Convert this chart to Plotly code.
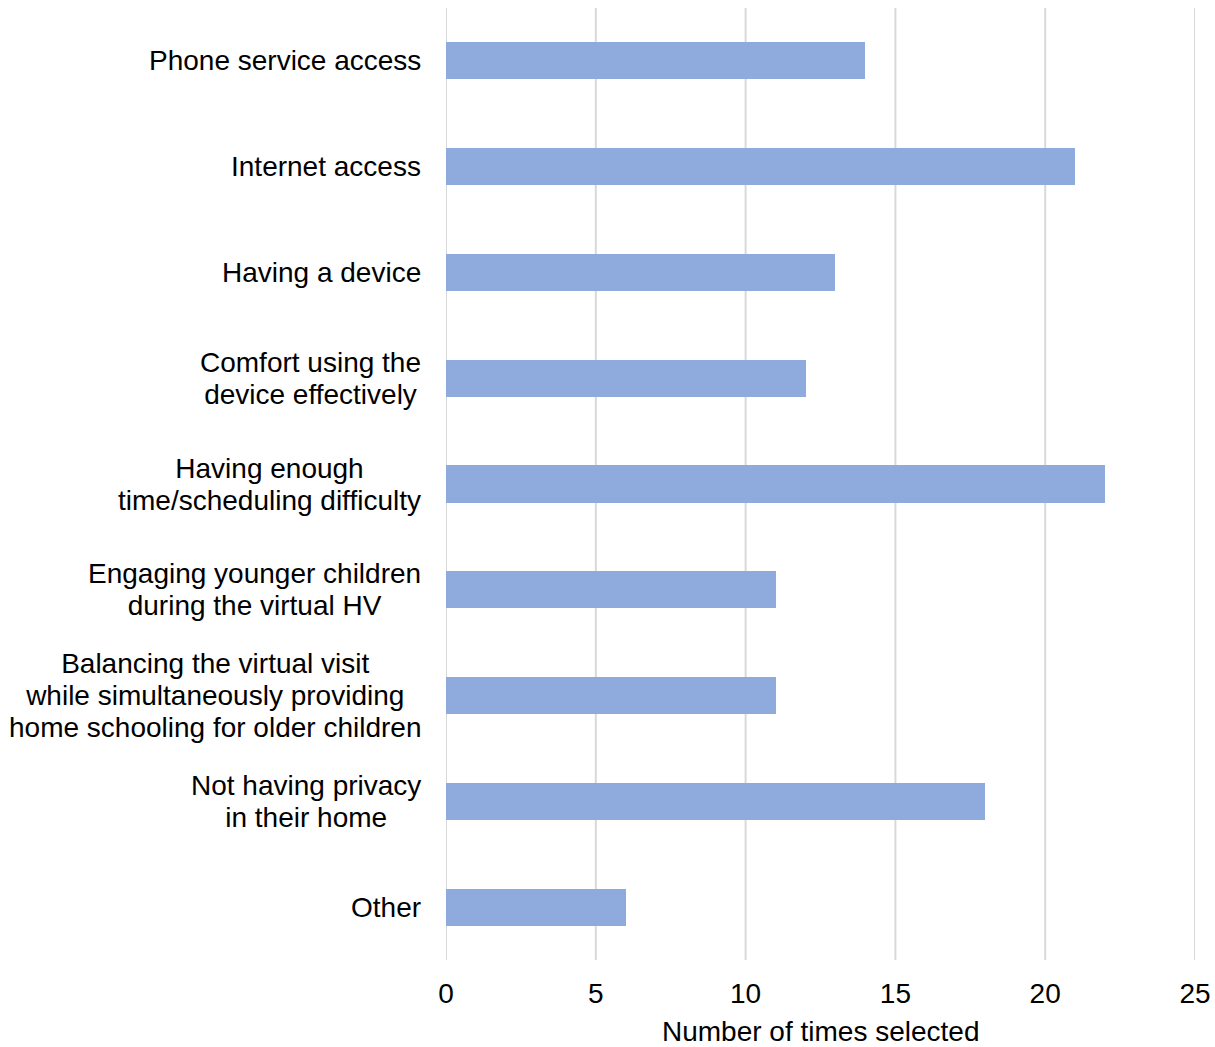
import plotly.graph_objects as go

# Reported barriers to virtual home visits
categories = [
    "Phone service access",
    "Internet access",
    "Having a device",
    "Comfort using the\ndevice effectively",
    "Having enough\ntime/scheduling difficulty",
    "Engaging younger children\nduring the virtual HV",
    "Balancing the virtual visit\nwhile simultaneously providing\nhome schooling for older children",
    "Not having privacy\nin their home",
    "Other",
]
counts = [14, 21, 13, 12, 22, 11, 11, 18, 6]
x_ticks = [0, 5, 10, 15, 20, 25]
x_title = "Number of times selected"

FONT = "Liberation Sans, Arial, sans-serif"
TEXT_PX = 28
LINE_BASE = 24.5  # controls spacing between wrapped label lines
GRID = "#D9D9D9"

fig = go.Figure(
    go.Bar(
        x=counts,
        y=list(range(len(categories))),
        orientation="h",
        width=0.35,
        marker=dict(color="#8FAADC", line=dict(width=0)),
        hoverinfo="skip",
    )
)

# Vertical gridlines at every tick, including both ends of the axis
for t in x_ticks:
    fig.add_shape(
        type="line", xref="x", yref="paper", x0=t, x1=t, y0=0, y1=1,
        line=dict(color=GRID, width=2), layer="below",
    )

# Category labels: centered lines, block right-aligned against the plot
for i, label in enumerate(categories):
    html = "<br>".join(
        f'<span style="font-size:{TEXT_PX}px">{line}</span>' for line in label.split("\n")
    )
    fig.add_annotation(
        x=0, xref="paper", xanchor="right", xshift=-23,
        y=i, yref="y", yanchor="middle",
        text=html, align="center", showarrow=False,
        font=dict(family=FONT, size=LINE_BASE, color="#000000"),
    )

# X-axis title placed below the tick labels
fig.add_annotation(
    x=0.5, xref="paper", xanchor="center",
    y=0, yref="paper", yanchor="middle", yshift=-71,
    text=x_title, showarrow=False,
    font=dict(family=FONT, size=TEXT_PX, color="#000000"),
)

fig.update_layout(
    width=1215, height=1047,
    margin=dict(l=446, r=20, t=8, b=87, autoexpand=False),
    paper_bgcolor="white", plot_bgcolor="white",
    showlegend=False,
    font=dict(family=FONT, size=TEXT_PX, color="#000000"),
    bargap=0,
)
fig.update_xaxes(
    range=[0, 25], tickvals=x_ticks, ticktext=[str(t) for t in x_ticks],
    showgrid=False, zeroline=False, showline=False, ticks="",
    automargin=False, ticklabelstandoff=14,
    tickfont=dict(family=FONT, size=TEXT_PX, color="#000000"),
)
fig.update_yaxes(
    range=[len(categories) - 0.5, -0.5], automargin=False,
    showticklabels=False, showgrid=False, zeroline=False, showline=False, ticks="",
)

fig.write_html("out.html")
